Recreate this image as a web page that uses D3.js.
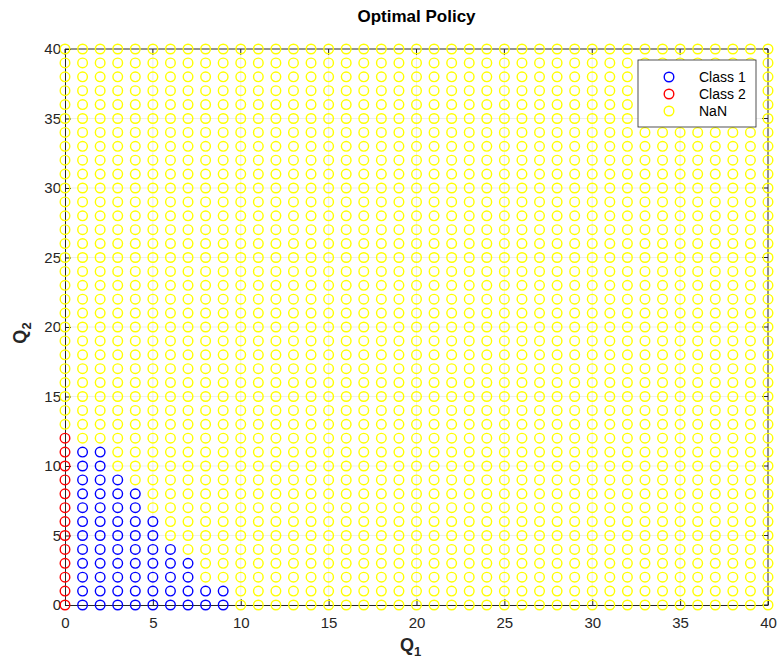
<!DOCTYPE html>
<html>
<head>
<meta charset="utf-8">
<script src="https://cdn.jsdelivr.net/npm/d3@7"></script>
<style>
  body { margin: 0; background: #fff; }
  text { font-family: "Liberation Sans", Arial, sans-serif; }
</style>
</head>
<body>
<div id="chart"></div>
<script>
// grid of states, 0..40 on each axis
const q1Values = d3.range(0, 41);
const q2Values = d3.range(0, 41);
// class 2 states: Q1 = 0, Q2 from 0 to this max
const class2MaxQ2 = 12;
// class 1: for each Q2 row, largest Q1 that is class 1 (from Q1 = 1)
const class1RowQ2 = [0, 1, 2, 3, 4, 5, 6, 7, 8, 9, 10, 11];
const class1RowMaxQ1 = [9, 9, 7, 7, 6, 5, 5, 4, 4, 3, 2, 2];
const xTicks = [0, 5, 10, 15, 20, 25, 30, 35, 40];
const yTicks = [0, 5, 10, 15, 20, 25, 30, 35, 40];
const legendLabels = ["Class 1", "Class 2", "NaN"];
const classColors = ["#0000ff", "#ff0000", "#ffff00"];

const width = 781, height = 664;
const margin = {left: 65, right: 13, top: 49, bottom: 59};

const svg = d3.select("#chart").append("svg")
  .attr("width", width).attr("height", height);

const x = d3.scaleLinear().domain([0, 40]).range([margin.left, width - margin.right]);
const y = d3.scaleLinear().domain([0, 40]).range([height - margin.bottom, margin.top]);

function classOf(q1, q2) {
  if (q1 === 0 && q2 <= class2MaxQ2) return 1;
  const i = class1RowQ2.indexOf(q2);
  if (i >= 0 && q1 >= 1 && q1 <= class1RowMaxQ1[i]) return 0;
  return 2;
}

const points = [];
q1Values.forEach(a => q2Values.forEach(b => points.push({q1: a, q2: b, c: classOf(a, b)})));

// grid
const grid = svg.append("g");
grid.selectAll(".gx").data(xTicks.slice(1, -1)).join("line")
  .attr("x1", d => x(d)).attr("x2", d => x(d))
  .attr("y1", y(0)).attr("y2", y(40))
  .attr("stroke", "#e0e0e0").attr("stroke-width", 0.6);
grid.selectAll(".gy").data(yTicks.slice(1, -1)).join("line")
  .attr("y1", d => y(d)).attr("y2", d => y(d))
  .attr("x1", x(0)).attr("x2", x(40))
  .attr("stroke", "#e0e0e0").attr("stroke-width", 0.6);

// axes
const xAxis = svg.append("g")
  .attr("transform", `translate(0,${y(0)})`)
  .call(d3.axisBottom(x).tickValues(xTicks).tickSizeInner(-6).tickSizeOuter(0).tickPadding(12));
const yAxis = svg.append("g")
  .attr("transform", `translate(${x(0)},0)`)
  .call(d3.axisLeft(y).tickValues(yTicks).tickSizeInner(-6).tickSizeOuter(0).tickPadding(4));
[xAxis, yAxis].forEach(g => {
  g.select(".domain").attr("stroke", "#262626");
  g.selectAll(".tick line").attr("stroke", "#262626");
  g.selectAll(".tick text").attr("fill", "#262626").attr("font-size", 15)
    .attr("font-family", "Liberation Sans, Arial, sans-serif");
});
// top and right box lines with ticks
svg.append("line").attr("x1", x(0)).attr("x2", x(40)).attr("y1", y(40)).attr("y2", y(40)).attr("stroke", "#262626");
svg.append("line").attr("x1", x(40)).attr("x2", x(40)).attr("y1", y(0)).attr("y2", y(40)).attr("stroke", "#262626");
svg.append("g").selectAll("line").data(xTicks).join("line")
  .attr("x1", d => x(d)).attr("x2", d => x(d)).attr("y1", y(40)).attr("y2", y(40) + 6).attr("stroke", "#262626");
svg.append("g").selectAll("line").data(yTicks).join("line")
  .attr("y1", d => y(d)).attr("y2", d => y(d)).attr("x1", x(40)).attr("x2", x(40) - 6).attr("stroke", "#262626");

// points
svg.append("g").selectAll("circle").data(points).join("circle")
  .attr("cx", d => x(d.q1)).attr("cy", d => y(d.q2)).attr("r", 4.8)
  .attr("fill", "none").attr("stroke", d => classColors[d.c]).attr("stroke-width", 1.4);

// title and labels
svg.append("text").attr("x", x(20)).attr("y", 22).attr("text-anchor", "middle")
  .attr("font-size", 17).attr("font-weight", "bold").attr("fill", "#000").text("Optimal Policy");
const xl = svg.append("text").attr("x", x(20) - 6).attr("y", 651).attr("text-anchor", "middle")
  .attr("font-size", 18).attr("font-weight", "bold").attr("fill", "#262626");
xl.append("tspan").text("Q");
xl.append("tspan").attr("dy", 5).attr("font-size", 13).text("1");
const yl = svg.append("text").attr("transform", `translate(26,${y(20) + 6}) rotate(-90)`)
  .attr("text-anchor", "middle").attr("font-size", 18).attr("font-weight", "bold").attr("fill", "#262626");
yl.append("tspan").text("Q");
yl.append("tspan").attr("dy", 5).attr("font-size", 13).text("2");

// legend
const lg = svg.append("g").attr("transform", "translate(638,60)");
lg.append("rect").attr("width", 118).attr("height", 67).attr("fill", "#fff").attr("stroke", "#262626").attr("stroke-width", 0.8);
const item = lg.selectAll("g").data(legendLabels).join("g")
  .attr("transform", (d, i) => `translate(0,${17 + i * 17})`);
item.append("circle").attr("cx", 31).attr("r", 4.8).attr("fill", "none")
  .attr("stroke", (d, i) => classColors[i]).attr("stroke-width", 1.4);
item.append("text").attr("x", 61).attr("dy", "0.35em").attr("font-size", 14).attr("fill", "#000").text(d => d);
</script>
</body>
</html>
